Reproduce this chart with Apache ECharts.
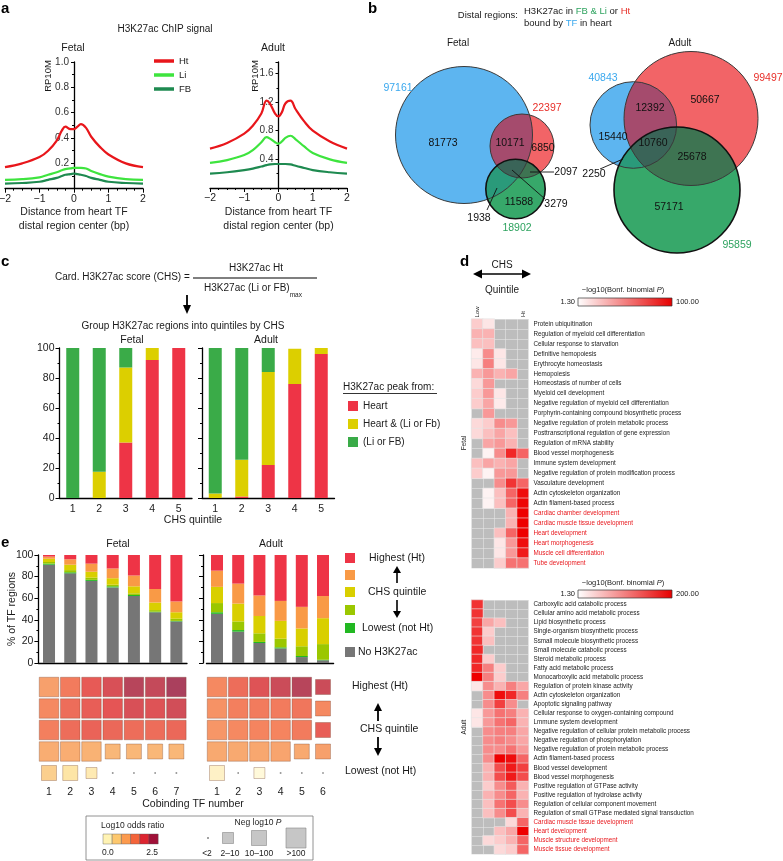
<!DOCTYPE html>
<html><head><meta charset="utf-8">
<script src="https://cdn.jsdelivr.net/npm/echarts@6/dist/echarts.min.js"></script>
<style>html,body{margin:0;padding:0;background:#fff}#c{width:783px;height:861px}</style>
</head><body><div id="c"></div><script>
const FONT = 'Liberation Sans, Arial, Helvetica, sans-serif';

// ---------------- Panel a: H3K27ac ChIP signal ----------------
const distX    = [-2,-1.5,-1,-0.75,-0.5,-0.35,-0.25,-0.1,0,0.1,0.2,0.35,0.5,0.75,1,1.5,2];
const fetalHt  = [0.17,0.20,0.25,0.30,0.38,0.46,0.49,0.47,0.47,0.49,0.51,0.48,0.41,0.33,0.27,0.20,0.17];
const fetalLi  = [0.07,0.075,0.09,0.11,0.13,0.145,0.155,0.16,0.165,0.165,0.165,0.16,0.14,0.115,0.095,0.075,0.07];
const fetalFB  = [0.04,0.045,0.055,0.07,0.085,0.10,0.11,0.115,0.12,0.115,0.11,0.10,0.085,0.07,0.055,0.045,0.04];
const adultHt  = [0.55,0.63,0.76,0.87,1.04,1.22,1.18,1.04,1.00,1.06,1.18,1.22,1.10,0.93,0.80,0.65,0.55];
const adultLi  = [0.35,0.39,0.46,0.53,0.64,0.71,0.69,0.64,0.62,0.65,0.70,0.73,0.68,0.58,0.49,0.40,0.35];
const adultFB  = [0.20,0.22,0.25,0.27,0.30,0.32,0.33,0.335,0.335,0.335,0.335,0.33,0.31,0.28,0.25,0.22,0.20];
const signalNames = ['Ht','Li','FB'];

// ---------------- Panel b: Venn counts ----------------
// region order: TF only, TF∩Ht, Ht only, Ht∩FB&Li, FB&Li only, TF∩Ht∩FB&Li, TF∩FB&Li
const vennSetsFetal    = [97161, 22397, 18902];
const vennRegionsFetal = [81773, 10171, 6850, 2097, 11588, 3279, 1938];
const vennSetsAdult    = [40843, 99497, 95859];
const vennRegionsAdult = [15440, 12392, 50667, 25678, 57171, 10760, 2250];

// ---------------- Panel c: peak origin by CHS quintile ----------------
const quintiles = ['1','2','3','4','5'];
const peakNames = ['Heart','Heart & (Li or Fb)','(Li or FB)'];
const cFetalHeart     = [0, 0, 37, 92, 100];
const cFetalHeartLiFb = [0, 17.5, 50, 8, 0];
const cFetalLiFb      = [100, 82.5, 13, 0, 0];
const cAdultHeart     = [0, 1, 22, 76, 96];
const cAdultHeartLiFb = [3, 24.5, 62, 23.5, 4];
const cAdultLiFb      = [97, 74.5, 16, 0, 0];

// ---------------- Panel d: GO enrichment heatmaps ----------------
const goFetalTerms = ['Protein ubiquitination','Regulation of myeloid cell differentiation','Cellular response to starvation','Definitive hemopoiesis','Erythrocyte homeostasis','Hemopoiesis','Homeostasis of number of cells','Myeloid cell development','Negative regulation of myeloid cell differentiation','Porphyrin-containing compound biosynthetic process','Negative regulation of protein metabolic process','Posttranscriptional regulation of gene expression','Regulation of mRNA stability','Blood vessel morphogenesis','Immune system development','Negative regulation of protein modification process','Vasculature development','Actin cytoskeleton organization','Actin filament-based process','Cardiac chamber development','Cardiac muscle tissue development','Heart development','Heart morphogenesis','Muscle cell differentiation','Tube development'];
// -log10(Bonf. binomial P) per quintile (Low..Ht); 0 = not significant (grey)
const goFetalValues = [
 [21,11,0,0,0],[31,31,0,0,0],[26,26,0,0,0],[9,46,11,0,0],[11,51,11,0,0],
 [31,41,31,36,0],[16,41,0,0,0],[21,41,11,0,0],[21,36,9,0,0],[0,41,0,0,0],
 [16,21,46,41,0],[16,26,36,26,0],[0,36,41,31,0],[0,6,46,85,61],[26,36,31,36,0],
 [21,6,41,41,0],[0,0,46,80,61],[0,6,26,61,95],[0,6,26,61,98],[0,0,0,31,100],
 [0,0,0,31,100],[0,0,26,61,100],[0,0,11,41,95],[0,0,11,41,90],[0,0,21,56,56]
];
const goAdultTerms = ['Carboxylic acid catabolic process','Cellular amino acid metabolic process','Lipid biosynthetic process','Single-organism biosynthetic process','Ssmall molecule biosynthetic process','Small molecule catabolic process','Steroid metabolic process','Fatty acid metabolic process','Monocarboxylic acid metabolic process','Regulation of protein kinase activity','Actin cytoskeleton organization','Apoptotic signaling pathway','Cellular response to oxygen-containing compound','Lmmune system development','Negative regulation of cellular protein metabolic process','Negative regulation of phosphorylation','Negative regulation of protein metabolic process','Actin filament-based process','Blood vessel development','Blood vessel morphogenesis','Positive regulation of GTPase activity','Positive regulation of hydrolase activity','Regulation of cellular component movement','Regulation of small GTPase mediated signal transduction','Cardiac muscle tissue development','Heart development','Muscle structure development','Muscle tissue development'];
const goAdultValues = [
 [160,0,0,0,0],[160,0,0,0,0],[150,71,51,0,0],[160,41,0,0,0],[160,51,0,0,0],
 [170,0,0,0,0],[170,41,0,0,0],[170,101,41,0,0],[200,101,41,0,0],[21,91,61,101,71],
 [0,91,190,170,101],[0,91,150,91,0],[21,81,111,101,61],[21,81,111,121,61],[0,91,101,101,71],
 [0,91,101,91,71],[0,91,91,111,81],[0,91,200,190,121],[0,61,140,180,150],[0,61,140,180,140],
 [0,41,91,130,61],[0,61,91,121,61],[0,51,111,140,91],[0,51,91,140,61],[0,0,0,31,121],
 [0,0,51,71,200],[0,31,41,61,121],[0,0,31,41,121]
];
const cardiacTerms = ['Cardiac chamber development','Cardiac muscle tissue development','Heart development','Heart morphogenesis','Muscle cell differentiation','Tube development','Muscle structure development','Muscle tissue development'];

// ---------------- Panel e: cobinding TF number ----------------
const cobindFetal = ['1','2','3','4','5','6','7'];
const cobindAdult = ['1','2','3','4','5','6'];
const eFetalNo = [91, 83, 76, 70, 62, 47, 38.5];
const eFetalQ1 = [1, 1, 1, 1, 1, 0.5, 0.5];
const eFetalQ2 = [1.5, 2, 2, 1.5, 1.5, 1.5, 2];
const eFetalQ3 = [3, 5, 5.5, 6, 6.5, 7, 6];
const eFetalQ4 = [2, 5, 7.5, 9, 10, 12.5, 10];
const eFetalQ5 = [1.5, 4, 8, 12.5, 19, 31.5, 43];
const eAdultNo = [45.5, 29, 18.5, 13.5, 5.5, 2.5];
const eAdultQ1 = [1.5, 1.5, 1, 1, 1, 0.5];
const eAdultQ2 = [8.5, 8, 8, 8, 9, 14.5];
const eAdultQ3 = [15, 16.5, 16, 16.5, 16.5, 24];
const eAdultQ4 = [15, 18.5, 19, 18.5, 20, 20.5];
const eAdultQ5 = [14.5, 26.5, 37.5, 42.5, 48, 38];
const quintileRows = ['Highest (Ht)','Q4','Q3','Q2','Lowest (not Ht)'];
const orFetal = [
 [1.2, 1.6, 1.95, 2.1, 2.35, 2.25, 2.45],
 [1.45, 1.75, 1.9, 2.0, 2.1, 2.05, 2.15],
 [1.55, 1.75, 1.85, 1.8, 1.75, 1.75, 1.8],
 [1.05, 1.05, 1.0, 0.95, 0.95, 0.95, 0.95],
 [0.7, 0.45, 0.35, 0, 0, 0, 0]
];
const pFetal = [
 [150,150,150,150,150,150,150],
 [150,150,150,150,150,150,150],
 [150,150,150,150,150,150,150],
 [150,150,150,40,40,40,40],
 [40,40,5,1,1,1,1]
];
const orAdult = [
 [1.45, 1.75, 2.05, 2.2, 2.35, 2.2],
 [1.35, 1.55, 1.6, 1.6, 1.65, 1.45],
 [1.3, 1.45, 1.5, 1.5, 1.6, 1.9],
 [1.1, 1.1, 1.12, 1.15, 1.1, 1.2],
 [0.2, 0, 0.05, 0, 0, 0]
];
const pAdult = [
 [150,150,150,150,150,40],
 [150,150,150,150,150,40],
 [150,150,150,150,150,40],
 [150,150,150,150,40,40],
 [40,1,5,1,1,1]
];

// ================= layout / style =================
const lineColors = {Ht:'#e8161b', Li:'#3ee43e', FB:'#1e8a50'};
const peakColors = ['#ee3446', '#dccf00', '#3aab48'];
const eColors = ['#767676','#22b822','#9bc700','#d9cf00','#f99a46','#ee3446'];
const orRamp = ['#fffbe0','#fde3a0','#f9b274','#f5845f','#e55555','#a33e5e'];
const orLegend = ['#fff3b4','#fdc86e','#fc9a4e','#f4643a','#dd2530','#a01038'];

const vennLayout = [
  { center:[[464,135],[522,146],[515.5,189]], radius:[68.5,32,29.7],
    setLabel:[[398,88],[547,108],[517,228]],
    regionLabel:[[443,143],[510,143],[543,148],[566,172],[519,202],[556,204],[479,218]],
    leaders:[null,null,null,[[530,172],[554,172]],null,[[512,170],[545,199]],[[497,188],[487,210]]] },
  { center:[[633.3,125],[691,118.5],[677,190]], radius:[43.3,67,63],
    setLabel:[[603,78],[768,78],[737,245]],
    regionLabel:[[613,137],[650,108],[705,100],[692,157],[669,207],[653,143],[594,174]],
    leaders:[null,null,null,null,null,null,[[600,169],[623,159]]] }
];
const vennSets = [vennSetsFetal, vennSetsAdult];
const vennRegions = [vennRegionsFetal, vennRegionsAdult];
const vennFill = ['#5db5f0','#f26467','#37a86a'];
const vennInter = [[[0,1],'#a54b6d'],[[0,2],'#2a9a7a'],[[1,2],'#3e7452'],[[0,1,2],'#3a6458']];
const vennSetColor = ['#3aa8ee','#e8302a','#2ea35f'];

function circlePoly(cx, cy, r, n) {
  const p = [];
  for (let i = 0; i < n; i++) { const a = 2*Math.PI*i/n; p.push([cx + r*Math.cos(a), cy + r*Math.sin(a)]); }
  return p;
}
function clipPoly(subject, clip) {
  let out = subject;
  for (let i = 0; i < clip.length && out.length; i++) {
    const A = clip[i], B = clip[(i+1) % clip.length];
    const inp = out; out = [];
    const inside = p => (B[0]-A[0])*(p[1]-A[1]) - (B[1]-A[1])*(p[0]-A[0]) >= 0;
    const inter = (P, Q) => {
      const a1 = B[1]-A[1], b1 = A[0]-B[0], c1 = a1*A[0] + b1*A[1];
      const a2 = Q[1]-P[1], b2 = P[0]-Q[0], c2 = a2*P[0] + b2*P[1];
      const d = a1*b2 - a2*b1;
      return [(b2*c1 - b1*c2)/d, (a1*c2 - a2*c1)/d];
    };
    for (let j = 0; j < inp.length; j++) {
      const P = inp[j], Q = inp[(j+1) % inp.length];
      const pi = inside(P), qi = inside(Q);
      if (qi) { if (!pi) out.push(inter(P, Q)); out.push(Q); }
      else if (pi) out.push(inter(P, Q));
    }
  }
  return out;
}
function renderVenn(params, api) {
  const k = params.dataIndex, lay = vennLayout[k];
  const C = lay.center.map((c, i) => { const p = api.coord(c); return [p[0], p[1], api.size([lay.radius[i], 0])[0]]; });
  const polys = C.map(c => circlePoly(c[0], c[1], c[2], 180));
  const ch = [];
  C.forEach((c, i) => ch.push({type:'circle', shape:{cx:c[0], cy:c[1], r:c[2]}, style:{fill:vennFill[i]}}));
  vennInter.forEach(([ids, col]) => {
    let poly = polys[ids[0]];
    for (let t = 1; t < ids.length; t++) poly = clipPoly(poly, polys[ids[t]]);
    if (poly.length > 2) ch.push({type:'polygon', shape:{points:poly}, style:{fill:col}});
  });
  C.forEach((c, i) => ch.push({type:'circle', shape:{cx:c[0], cy:c[1], r:c[2]},
    style:{fill:'none', stroke: i === 2 ? '#111' : '#3a3a3a', lineWidth: i === 2 ? 1.6 : 1}}));
  lay.leaders.forEach(ld => { if (!ld) return; const a = api.coord(ld[0]), b = api.coord(ld[1]);
    ch.push({type:'line', shape:{x1:a[0], y1:a[1], x2:b[0], y2:b[1]}, style:{stroke:'#111', lineWidth:0.9}}); });
  vennRegions[k].forEach((v, i) => { const p = api.coord(lay.regionLabel[i]);
    ch.push({type:'text', x:p[0], y:p[1], style:{text:String(v), fill:'#111', fontSize:10.5, fontFamily:FONT, align:'center', verticalAlign:'middle'}}); });
  vennSets[k].forEach((v, i) => { const p = api.coord(lay.setLabel[i]);
    ch.push({type:'text', x:p[0], y:p[1], style:{text:String(v), fill:vennSetColor[i], fontSize:10.5, fontFamily:FONT, align:'center', verticalAlign:'middle'}}); });
  return {type:'group', children: ch};
}

// ================= axes / grids =================
const grids = [
  {left:5, top:62, width:138, height:126.7},        // 0 a fetal
  {left:210, top:62, width:137, height:126},        // 1 a adult
  {left:0, top:0, width:783, height:861},           // 2 venn canvas
  {left:59.5, top:348, width:132.5, height:150},    // 3 c fetal
  {left:202, top:348, width:132.5, height:150},     // 4 c adult
  {left:38.4, top:555, width:148.6, height:108},    // 5 e fetal bars
  {left:206.4, top:555, width:127.2, height:108},   // 6 e adult bars
  {left:38.4, top:676.25, width:148.6, height:107.5},// 7 e fetal squares
  {left:206.4, top:676.25, width:127.2, height:107.5},// 8 e adult squares
  {left:471.5, top:319, width:57, height:249, show:true, backgroundColor:'#bdbdbd', borderWidth:0},  // 9 d fetal
  {left:471.5, top:600, width:57, height:254, show:true, backgroundColor:'#bdbdbd', borderWidth:0}   // 10 d adult
].map(g => Object.assign({outerBoundsMode:'none', containLabel:false, show:false}, g));

const blackLine = {color:'#000', width:1.3};
const minus = v => v < 0 ? '\u2212' + (-v) : String(v);
function aX(g) {
  return {gridIndex:g, type:'value', min:-2, max:2, interval:1,
    axisLine:{onZero:false, lineStyle:blackLine}, axisTick:{length:4, lineStyle:{color:'#000'}},
    minorTick:{show:true, splitNumber:4, length:2, lineStyle:{color:'#000'}},
    splitLine:{show:false}, minorSplitLine:{show:false},
    axisLabel:{fontSize:10.5, color:'#222', margin:5, formatter:minus},
    name:'Distance from heart TF\ndistal region center (bp)', nameLocation:'middle', nameGap:16,
    nameTextStyle:{fontSize:10.5, lineHeight:14, color:'#222'}};
}
// y axis drawn at x = 0 (centre of the symmetric x range)
function aY(g, max, iv, halfWidth) {
  return {gridIndex:g, type:'value', min:0, max, interval:iv, offset:-halfWidth,
    axisLine:{show:true, onZero:false, lineStyle:blackLine}, axisTick:{show:true, length:3, lineStyle:{color:'#000'}},
    minorTick:{show:true, splitNumber:2, length:2, lineStyle:{color:'#000'}},
    splitLine:{show:false}, minorSplitLine:{show:false},
    axisLabel:{fontSize:10, color:'#333', margin:5,
      formatter: v => (v > 0 && Math.abs(v/iv - Math.round(v/iv)) < 1e-6) ? v.toFixed(1) : ''}};
}
function catX(g, data, showLabel, margin) {
  return {gridIndex:g, type:'category', data, axisLine:{show:true, lineStyle:blackLine}, axisTick:{show:false},
    axisLabel:{show:showLabel, fontSize:10.5, color:'#222', margin}, splitLine:{show:false}};
}
function pctY(g, showLabel, offset) {
  return {gridIndex:g, type:'value', min:0, max:100, interval:20, offset: offset || 0,
    axisLine:{show:true, lineStyle:blackLine}, axisTick:{show:true, length:4, lineStyle:{color:'#000'}},
    minorTick:{show:true, splitNumber:2, length:2, lineStyle:{color:'#000'}},
    splitLine:{show:false}, minorSplitLine:{show:false},
    axisLabel:{show:showLabel, fontSize:10.5, color:'#222', margin:5}};
}
const hidden = {show:false};
const cellLines = {show:true, interval:0, lineStyle:{color:'#e6e6e6', width:0.6}};
const heatX = g => ({gridIndex:g, type:'category', data:quintiles, axisLine:hidden, axisTick:hidden, axisLabel:hidden, splitLine:cellLines});
const xAxis = [
  aX(0), aX(1),
  {gridIndex:2, type:'value', min:0, max:783, show:false},
  catX(3, quintiles, true, 6), catX(4, quintiles, true, 6),
  catX(5, cobindFetal, false, 6), catX(6, cobindAdult, false, 6),
  {gridIndex:7, type:'category', data:cobindFetal, axisLine:hidden, axisTick:hidden, axisLabel:{fontSize:10.5, color:'#222', margin:3}},
  {gridIndex:8, type:'category', data:cobindAdult, axisLine:hidden, axisTick:hidden, axisLabel:{fontSize:10.5, color:'#222', margin:3}},
  heatX(9), heatX(10)
];
const termAxis = (g, terms) => ({gridIndex:g, type:'category', data:terms, inverse:true, position:'right',
  axisLine:hidden, axisTick:hidden, splitLine:cellLines,
  axisLabel:{interval:0, fontSize:6.3, margin:5, color: v => cardiacTerms.includes(v) ? '#e8161b' : '#222'}});
const yAxis = [
  aY(0, 1, 0.2, 69), aY(1, 1.76, 0.4, 68.5),
  {gridIndex:2, type:'value', min:0, max:861, inverse:true, show:false},
  pctY(3, true), pctY(4, false),
  pctY(5, true), pctY(6, false, 3.4),
  {gridIndex:7, type:'category', data:quintileRows, inverse:true, show:false},
  {gridIndex:8, type:'category', data:quintileRows, inverse:true, show:false},
  termAxis(9, goFetalTerms), termAxis(10, goAdultTerms)
];

// ================= series =================
const series = [];
const add = s => { series.push(Object.assign({animation:false, silent:true}, s)); return series.length - 1; };
const pair = (xs, ys) => xs.map((x, i) => [x, ys[i]]);

[[0, [fetalHt, fetalLi, fetalFB]], [1, [adultHt, adultLi, adultFB]]].forEach(([g, arr]) => {
  [2, 1, 0].forEach(i => {
    const n = signalNames[i];
    add({type:'line', name:n, xAxisIndex:g, yAxisIndex:g, data:pair(distX, arr[i]), smooth:0.4,
      showSymbol:false, symbol:'none', lineStyle:{width:2.2, color:lineColors[n]}, itemStyle:{color:lineColors[n]}, z:3});
  });
});

add({type:'custom', name:'venn', xAxisIndex:2, yAxisIndex:2, data:[[0,0],[1,0]], renderItem:renderVenn, clip:false, z:2});

[[3, [cFetalHeart, cFetalHeartLiFb, cFetalLiFb]], [4, [cAdultHeart, cAdultHeartLiFb, cAdultLiFb]]].forEach(([g, arr]) => {
  arr.forEach((d, i) => add({type:'bar', name:peakNames[i], xAxisIndex:g, yAxisIndex:g, stack:'c'+g, data:d,
    barWidth:13, itemStyle:{color:peakColors[i]}}));
});

[[5, [eFetalNo, eFetalQ1, eFetalQ2, eFetalQ3, eFetalQ4, eFetalQ5]], [6, [eAdultNo, eAdultQ1, eAdultQ2, eAdultQ3, eAdultQ4, eAdultQ5]]].forEach(([g, arr]) => {
  arr.forEach((d, i) => add({type:'bar', name:'e'+g+'_'+i, xAxisIndex:g, yAxisIndex:g, stack:'e'+g, data:d,
    barWidth:12, itemStyle:{color:eColors[i]}}));
});

const pSize = p => p > 100 ? 19.5 : p > 10 ? 15 : p > 2 ? 11 : 1.6;
const sqIdx = [];
[[7, orFetal, pFetal], [8, orAdult, pAdult]].forEach(([g, or, pv]) => {
  const big = [], dots = [];
  or.forEach((row, r) => row.forEach((v, c) => { (pv[r][c] > 2 ? big : dots).push([c, r, v, pv[r][c]]); }));
  sqIdx.push(add({type:'scatter', xAxisIndex:g, yAxisIndex:g, data:big, symbol:'rect',
    symbolSize: d => pSize(d[3]), itemStyle:{borderColor:'rgba(110,60,40,0.45)', borderWidth:0.7, opacity:1}}));
  add({type:'scatter', xAxisIndex:g, yAxisIndex:g, data:dots, symbol:'rect', symbolSize: d => pSize(d[3]),
    itemStyle:{color:'#666'}});
});

// not-significant cells (0) are left empty so the grey grid background shows through
const heatData = vals => { const out = []; vals.forEach((row, r) => row.forEach((v, c) => out.push([c, r, v > 0 ? v : '-']))); return out; };
const hF = add({type:'heatmap', xAxisIndex:9, yAxisIndex:9, data:heatData(goFetalValues),
  itemStyle:{borderColor:'#e6e6e6', borderWidth:0.6}, emphasis:{disabled:true}});
const hA = add({type:'heatmap', xAxisIndex:10, yAxisIndex:10, data:heatData(goAdultValues),
  itemStyle:{borderColor:'#e6e6e6', borderWidth:0.6}, emphasis:{disabled:true}});

// ================= graphics (titles, annotations, legends) =================
function T(x, y, text, o) {
  o = o || {};
  return {type:'text', x, y, rotation:o.rot || 0, z:50, silent:true,
    style:{text, fill:o.color || '#1a1a1a', fontSize:o.size || 10, fontFamily:FONT, fontWeight:o.weight || 'normal',
      align:o.align || 'center', verticalAlign:o.va || 'middle', rich:o.rich}};
}
const L = (x1, y1, x2, y2, w, c) => ({type:'line', z:50, silent:true, shape:{x1, y1, x2, y2}, style:{stroke:c || '#000', lineWidth:w || 1}});
const Pg = (points, c) => ({type:'polygon', z:50, silent:true, shape:{points}, style:{fill:c || '#000'}});
const Rc = (x, y, w, h, fill, stroke, lw) => ({type:'rect', z:50, silent:true, shape:{x, y, width:w, height:h}, style:{fill, stroke, lineWidth:lw || 0}});
function arrowV(x, y0, y1, head, w) {
  head = head || 6; const d = Math.sign(y1 - y0);
  return [L(x, y0, x, y1 - d*head, w || 1.6), Pg([[x-4, y1 - d*head - d], [x+4, y1 - d*head - d], [x, y1]])];
}
const G = [];
const panelLbl = (x, y, s) => G.push(T(x, y, s, {size:15, weight:'bold', align:'left', color:'#000'}));
panelLbl(1, 9, 'a'); panelLbl(368, 9, 'b'); panelLbl(1, 262, 'c'); panelLbl(460, 262, 'd'); panelLbl(1, 543, 'e');

// a
G.push(T(165, 29, 'H3K27ac ChIP signal', {size:10}));
G.push(T(73, 48, 'Fetal', {size:10.5}), T(273, 48, 'Adult', {size:10.5}));
G.push(T(48, 76, 'RP10M', {size:9.5, rot:Math.PI/2}), T(255, 76, 'RP10M', {size:9.5, rot:Math.PI/2}));

// b
G.push(T(518, 15, 'Distal regions:', {size:9.5, align:'right'}));
G.push(T(524, 11, '{k|H3K27ac in }{g|FB & Li}{k| or }{r|Ht}', {size:9.5, align:'left',
  rich:{k:{fill:'#1a1a1a', fontSize:9.5, fontFamily:FONT}, g:{fill:'#2ea35f', fontSize:9.5, fontFamily:FONT}, r:{fill:'#e8302a', fontSize:9.5, fontFamily:FONT}}}));
G.push(T(524, 23, '{k|bound by }{b|TF}{k| in heart}', {size:9.5, align:'left',
  rich:{k:{fill:'#1a1a1a', fontSize:9.5, fontFamily:FONT}, b:{fill:'#3aa8ee', fontSize:9.5, fontFamily:FONT}}}));
G.push(T(458, 43, 'Fetal', {size:10}), T(680, 43, 'Adult', {size:10}));

// c
G.push(T(55, 277, 'Card. H3K27ac score (CHS) =', {size:10, align:'left'}));
G.push(L(193, 278, 317, 278, 1.2));
G.push(T(256, 268, 'H3K27ac Ht', {size:10}));
G.push(T(253, 291, '{a|H3K27ac (Li or FB)}{s|max}', {size:10,
  rich:{a:{fontSize:10, fontFamily:FONT, fill:'#1a1a1a', lineHeight:12, verticalAlign:'top'}, s:{fontSize:6.5, fontFamily:FONT, fill:'#1a1a1a', lineHeight:15, verticalAlign:'bottom'}}}));
G.push(...arrowV(187, 295, 314, 8, 1.8));
G.push(T(183, 326, 'Group H3K27ac regions into quintiles by CHS', {size:10}));
G.push(T(132, 340, 'Fetal', {size:10.5}), T(266, 340, 'Adult', {size:10.5}));
G.push(T(193, 520, 'CHS quintile', {size:10.5}));
G.push(T(343, 387, 'H3K27ac peak from:', {size:10, align:'left'}), L(343, 393.5, 437, 393.5, 0.8));

// d
G.push(T(502, 265, 'CHS', {size:10}), T(502, 290, 'Quintile', {size:10}));
G.push(L(481, 274, 523, 274, 1.6), Pg([[473, 274], [482, 269.5], [482, 278.5]]), Pg([[531, 274], [522, 269.5], [522, 278.5]]));
function colorBar(y, titleY, maxTxt) {
  G.push(T(623, titleY, '{n|\u2212log10(Bonf. binomial }{i|P}{n|)}', {size:7.5,
    rich:{n:{fontSize:7.5, fontFamily:FONT, fill:'#222'}, i:{fontSize:7.5, fontFamily:FONT, fontStyle:'italic', fill:'#222'}}}));
  G.push({type:'rect', z:50, silent:true, shape:{x:578, y, width:94, height:8},
    style:{stroke:'#333', lineWidth:0.7, fill:{type:'linear', x:0, y:0, x2:1, y2:0, colorStops:[{offset:0, color:'#ffffff'}, {offset:1, color:'#e60000'}]}}});
  G.push(T(575, y + 4, '1.30', {size:7.5, align:'right'}), T(676, y + 4, maxTxt, {size:7.5, align:'left'}));
}
colorBar(298, 290, '100.00');
colorBar(590, 583, '200.00');
G.push(T(477, 312, 'Low', {size:6, rot:Math.PI/2}), T(523, 314, 'Ht', {size:6, rot:Math.PI/2}));
G.push(T(464, 443, 'Fetal', {size:6.5, rot:Math.PI/2}), T(464, 727, 'Adult', {size:6.5, rot:Math.PI/2}));

// e
G.push(T(118, 544, 'Fetal', {size:10.5}), T(271, 544, 'Adult', {size:10.5}));
G.push(T(12, 609, '% of TF regions', {size:10.5, rot:Math.PI/2}));
const eLegend = [[558, 5, 'Highest (Ht)', 369], [575, 4, '', 0], [592, 3, 'CHS quintile', 368], [610, 2, '', 0], [628, 1, 'Lowest (not Ht)', 362], [652, 0, 'No H3K27ac', 358]];
eLegend.forEach(([y, ci, txt, tx]) => { G.push(Rc(345, y - 5, 10, 10, eColors[ci])); if (txt) G.push(T(tx, y, txt, {size:10.5, align:'left'})); });
G.push(...arrowV(397, 583, 566, 6, 1.6), ...arrowV(397, 600, 618, 6, 1.6));
G.push(T(193, 804, 'Cobinding TF number', {size:10.5}));
G.push(T(352, 686, 'Highest (Ht)', {size:10.5, align:'left'}), T(360, 729, 'CHS quintile', {size:10.5, align:'left'}), T(345, 771, 'Lowest (not Ht)', {size:10.5, align:'left'}));
G.push(...arrowV(378, 721, 703, 7, 1.8), ...arrowV(378, 737, 756, 7, 1.8));
G.push(Rc(86, 816, 227, 44, 'none', '#777', 0.8));
G.push(T(101, 826, 'Log10 odds ratio', {size:8.5, align:'left'}));
orLegend.forEach((c, i) => G.push(Rc(103 + i*9.2, 834, 9.2, 10, c, '#555', 0.4)));
G.push(T(102, 853, '0.0', {size:8.5, align:'left'}), T(158, 853, '2.5', {size:8.5, align:'right'}));
G.push(T(258, 823, '{n|Neg log10 }{i|P}', {size:8.5, rich:{n:{fontSize:8.5, fontFamily:FONT, fill:'#222'}, i:{fontSize:8.5, fontFamily:FONT, fontStyle:'italic', fill:'#222'}}}));
[[208, 1.6, '<2', 207], [228, 11, '2\u201310', 230], [259, 15, '10\u2013100', 259], [296, 20, '>100', 296]].forEach(([cx, s, t, tx]) => {
  G.push(Rc(cx - s/2, 838 - s/2, s, s, s < 2 ? '#666' : '#c6c6c6', s < 2 ? null : '#888', 0.6));
  G.push(T(tx, 854, t, {size:8.5}));
});

const option = {
  animation:false,
  backgroundColor:'#fff',
  textStyle:{fontFamily:FONT},
  grid:grids, xAxis, yAxis, series,
  legend:[
    {data:signalNames, orient:'vertical', left:149, top:51, icon:'rect', itemWidth:20, itemHeight:3.5, itemGap:4,
      selectedMode:false, textStyle:{fontSize:9.5, color:'#222', padding:[0,0,0,0]}},
    {data:peakNames, orient:'vertical', left:343, top:396, icon:'rect', itemWidth:10, itemHeight:10, itemGap:8,
      selectedMode:false, textStyle:{fontSize:10, color:'#222'}}
  ],
  visualMap:[
    {type:'continuous', show:false, seriesIndex:hF, dimension:2, min:1.3, max:100, inRange:{color:['#ffffff','#ee0000']}},
    {type:'continuous', show:false, seriesIndex:hA, dimension:2, min:1.3, max:200, inRange:{color:['#ffffff','#ee0000']}},
    {type:'continuous', show:false, seriesIndex:sqIdx, dimension:2, min:0, max:2.5, inRange:{color:orRamp}}
  ],
  graphic:{elements:G}
};
const chart = echarts.init(document.getElementById('c'), null, {width:783, height:861});
chart.setOption(option);
</script></body></html>
